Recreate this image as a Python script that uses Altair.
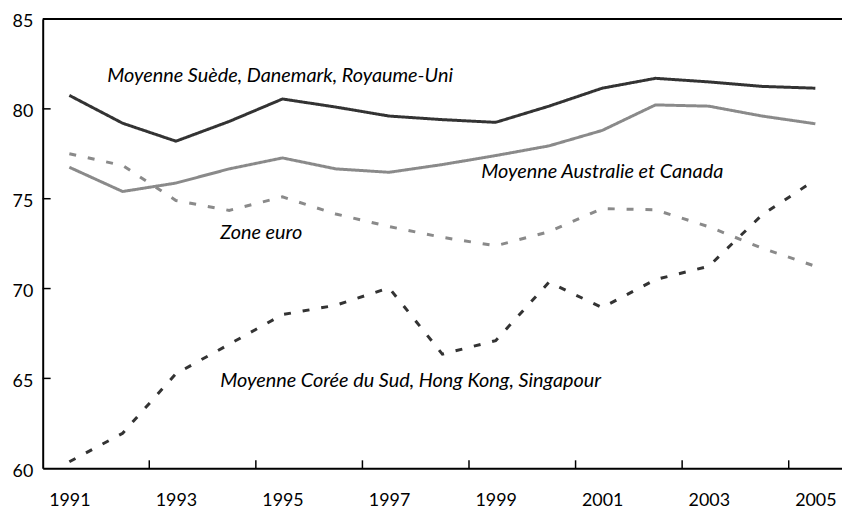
import altair as alt
import pandas as pd

years = list(range(1991, 2006))

suede = [80.75, 79.2, 78.2, 79.3, 80.55, 80.1, 79.6, 79.4, 79.25, 80.15, 81.15, 81.7, 81.5, 81.25, 81.15]
australie = [76.75, 75.4, 75.87, 76.66, 77.27, 76.66, 76.47, 76.9, 77.4, 77.94, 78.8, 80.22, 80.15, 79.6, 79.17]
zone_euro = [77.5, 76.85, 74.9, 74.35, 75.1, 74.15, 73.45, 72.85, 72.38, 73.16, 74.45, 74.38, 73.44, 72.25, 71.24]
coree = [60.36, 61.95, 65.26, 66.9, 68.55, 69.07, 70.04, 66.35, 67.1, 70.35, 68.94, 70.5, 71.24, 74.1, 76.05]

series_names = [
    "Moyenne Suède, Danemark, Royaume-Uni",
    "Moyenne Australie et Canada",
    "Zone euro",
    "Moyenne Corée du Sud, Hong Kong, Singapour",
]
series_values = [suede, australie, zone_euro, coree]
series_colors = ["#333333", "#8a8a8a", "#8a8a8a", "#333333"]
series_dashes = [[1, 0], [1, 0], [7, 12], [7, 12]]

label_x = [1991.71, 1998.73, 1993.83, 1993.83]
label_y = [81.8, 76.5, 73.08, 64.86]

y_ticks = [60, 65, 70, 75, 80, 85]
x_label_years = [1991, 1993, 1995, 1997, 1999, 2001, 2003, 2005]
x_tick_marks = [1992.5, 1994.5, 1996.5, 1998.5, 2000.5, 2002.5, 2004.5]
y_inner_ticks = [65, 70, 75, 80]

rows = []
for name, vals in zip(series_names, series_values):
    for yr, v in zip(years, vals):
        rows.append({"serie": name, "annee": yr, "valeur": v})
df = pd.DataFrame(rows)

x_scale = alt.Scale(domain=[1990.5, 2005.5], nice=False, zero=False)
y_scale = alt.Scale(domain=[60, 85], nice=False, zero=False)

lines = alt.Chart(df).mark_line(strokeWidth=3).encode(
    x=alt.X("annee:Q", scale=x_scale, title=None,
            axis=alt.Axis(values=x_label_years, format="d", labelPadding=24,
                          labelFlush=False)),
    y=alt.Y("valeur:Q", scale=y_scale, title=None,
            axis=alt.Axis(values=y_ticks, labelPadding=10, labelOffset=3,
                          labelFlush=False)),
    color=alt.Color("serie:N", scale=alt.Scale(domain=series_names, range=series_colors), legend=None),
    strokeDash=alt.StrokeDash("serie:N", scale=alt.Scale(domain=series_names, range=series_dashes), legend=None),
    detail="serie:N",
)

labels_df = pd.DataFrame({"texte": series_names, "annee": label_x, "valeur": label_y})
labels = alt.Chart(labels_df).mark_text(
    align="left", baseline="middle", font="Lato", fontStyle="italic",
    fontSize=20, color="black"
).encode(
    x=alt.X("annee:Q", scale=x_scale, title=None),
    y=alt.Y("valeur:Q", scale=y_scale, title=None),
    text="texte:N",
)

top_border = alt.Chart(pd.DataFrame({"valeur": [85]})).mark_rule(
    color="black", strokeWidth=2
).encode(y=alt.Y("valeur:Q", scale=y_scale, title=None))

y_ticks_layer = alt.Chart(pd.DataFrame({"valeur": y_inner_ticks})).mark_rule(
    color="black", strokeWidth=1.5
).encode(
    y=alt.Y("valeur:Q", scale=y_scale, title=None),
    x=alt.value(0), x2=alt.value(8),
)

x_ticks_layer = alt.Chart(pd.DataFrame({"annee": x_tick_marks})).mark_rule(
    color="black", strokeWidth=1.5
).encode(
    x=alt.X("annee:Q", scale=x_scale, title=None),
    y=alt.value(445), y2=alt.value(453),
)

chart = alt.layer(lines, labels, top_border, y_ticks_layer, x_ticks_layer).properties(
    width=806, height=453,
    autosize=alt.AutoSizeParams(type="none"),
    padding={"left": 35, "top": 9, "right": 0, "bottom": 40},
).configure_view(stroke=None).configure(background="white").configure_axis(
    ticks=False, grid=False, domainColor="black", domainWidth=2,
    labelFont="Lato", labelFontSize=18, labelColor="black",
)

chart.save("out.html", embed_options={"renderer": "svg", "actions": False})
